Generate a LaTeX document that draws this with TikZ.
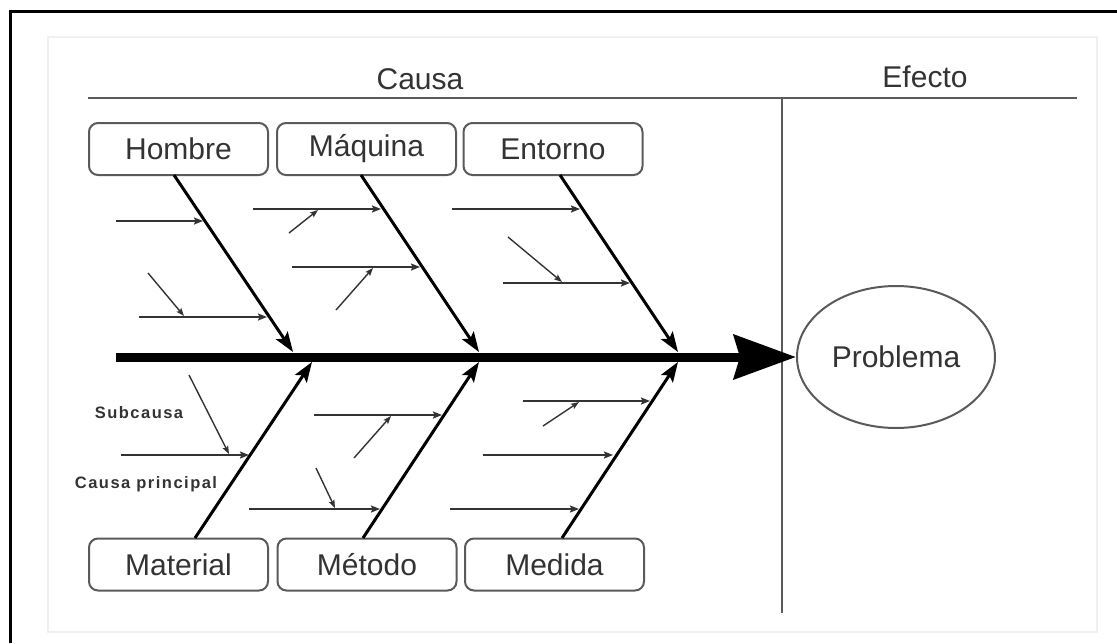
\documentclass[tikz,border=0pt]{standalone}
\usepackage{fontspec}
\setmainfont{Liberation Sans}
\newfontfamily\lblfont[LetterSpace=9]{Liberation Sans}
\usetikzlibrary{arrows.meta,shapes.geometric}
\definecolor{ink}{HTML}{333333}
\definecolor{edgegray}{HTML}{5A5A5A}
\definecolor{faint}{HTML}{F0F0F0}
\begin{document}
\begin{tikzpicture}[x=1pt,y=-1pt,
  catbox/.style={draw=edgegray, line width=2pt, rounded corners=9pt,
    minimum width=179pt, minimum height=52pt, inner sep=0pt,
    font=\fontsize{30}{32}\selectfont, text=ink},
  headtext/.style={font=\fontsize{30}{32}\selectfont, text=ink, inner sep=0pt},
  smalllbl/.style={font=\lblfont\bfseries\fontsize{16.5}{18}\selectfont, text=ink, inner sep=0pt},
  bone/.style={line width=3pt, -{Stealth[length=20pt 0,width=14pt 0,inset=4pt 0]}},
  subarrow/.style={draw=ink, line width=1.8pt, -{Stealth[length=9pt 0,width=7pt 0,inset=1.5pt 0]}},
  twig/.style={draw=ink, line width=1.4pt, -{Stealth[length=8pt 0,width=6pt 0,inset=1.5pt 0]}},
  guide/.style={draw=edgegray, line width=2.5pt}
]
\useasboundingbox (0,0) rectangle (1117,643);
\fill[white] (0,0) rectangle (1117,643);
% frames
\draw[faint, line width=2pt] (48,37) rectangle (1097,632);
\coordinate (frTL) at (10,11);
\coordinate (frTR) at (1117,11);
\coordinate (frBL) at (10,643);
\draw[black, line width=3pt] (frBL) -- (frTL) -- (frTR);

% header
\node[headtext] (causa) at (420,79) {Causa};
\node[headtext] (efecto) at (925,77) {Efecto};
\coordinate (hL) at (88,98);
\coordinate (hR) at (1077,98);
\coordinate (vT) at (782,98);
\coordinate (vB) at (782,613);
\draw[guide] (hL) -- (hR);
\draw[guide] (vT) -- (vB);

% category boxes
\node[catbox] (hombre)   at (178.5,149) {Hombre};
\node[catbox] (maquina)  at (366.5,149) {Máquina};
\node[catbox] (entorno)  at (553,149)   {Entorno};
\node[catbox] (material) at (178.5,564.5) {Material};
\node[catbox] (metodo)   at (367,564.5) {Método};
\node[catbox] (medida)   at (554.5,564.5) {Medida};

% effect
\node[ellipse, draw=edgegray, line width=2pt, minimum width=198pt, minimum height=142pt,
      inner sep=0pt, font=\fontsize{30}{32}\selectfont, text=ink] (prob) at (896,357) {Problema};

% spine
\coordinate (spL) at (116,357);
\draw[line width=9pt, -{Stealth[length=62pt 0,width=44pt 0,inset=6pt 0]}] (spL) -- (prob.west);

% bone endpoints
\coordinate (b1s) at (174,175);  \coordinate (b1e) at (293,352);
\coordinate (b2s) at (361,175);  \coordinate (b2e) at (479,352);
\coordinate (b3s) at (560,175);  \coordinate (b3e) at (678,352);
\coordinate (b4s) at (195,538);  \coordinate (b4e) at (312,362);
\coordinate (b5s) at (363,538);  \coordinate (b5e) at (479,362);
\coordinate (b6s) at (562,538);  \coordinate (b6e) at (678,362);
\draw[bone] (b1s) -- (b1e);
\draw[bone] (b2s) -- (b2e);
\draw[bone] (b3s) -- (b3e);
\draw[bone] (b4s) -- (b4e);
\draw[bone] (b5s) -- (b5e);
\draw[bone] (b6s) -- (b6e);

% sub-causes (horizontal)
\coordinate (s1a) at (116,221); \coordinate (s1b) at (203,221);
\coordinate (s2a) at (139,317); \coordinate (s2b) at (267,317);
\coordinate (s3a) at (253,209); \coordinate (s3b) at (381,209);
\coordinate (s4a) at (292,267); \coordinate (s4b) at (420,267);
\coordinate (s5a) at (452,209); \coordinate (s5b) at (580,209);
\coordinate (s6a) at (503,283); \coordinate (s6b) at (630,283);
\coordinate (s7a) at (121,455); \coordinate (s7b) at (249,455);
\coordinate (s8a) at (314,415); \coordinate (s8b) at (442,415);
\coordinate (s9a) at (249,509); \coordinate (s9b) at (380,509);
\coordinate (s10a) at (523,401); \coordinate (s10b) at (650,401);
\coordinate (s11a) at (483,455); \coordinate (s11b) at (613,455);
\coordinate (s12a) at (450,509); \coordinate (s12b) at (579,509);
\foreach \i in {1,...,12} {\draw[subarrow] (s\i a) -- (s\i b);}

% twigs (diagonal)
\coordinate (t1a) at (148,273); \coordinate (t1b) at (184,316);
\coordinate (t2a) at (289,233); \coordinate (t2b) at (318,210);
\coordinate (t3a) at (336,310); \coordinate (t3b) at (373,268);
\coordinate (t4a) at (508,237); \coordinate (t4b) at (562,282);
\coordinate (t5a) at (189,375); \coordinate (t5b) at (229,454);
\coordinate (t6a) at (354,458); \coordinate (t6b) at (391,416);
\coordinate (t7a) at (316,468); \coordinate (t7b) at (335,508);
\coordinate (t8a) at (543,426); \coordinate (t8b) at (579,402);
\foreach \i in {1,...,8} {\draw[twig] (t\i a) -- (t\i b);}

% small labels
\node[smalllbl] (lblsub) at (139,413) {Subcausa};
\node[smalllbl] (lblcp)  at (146,484) {Causa principal};
\end{tikzpicture}
\end{document}
